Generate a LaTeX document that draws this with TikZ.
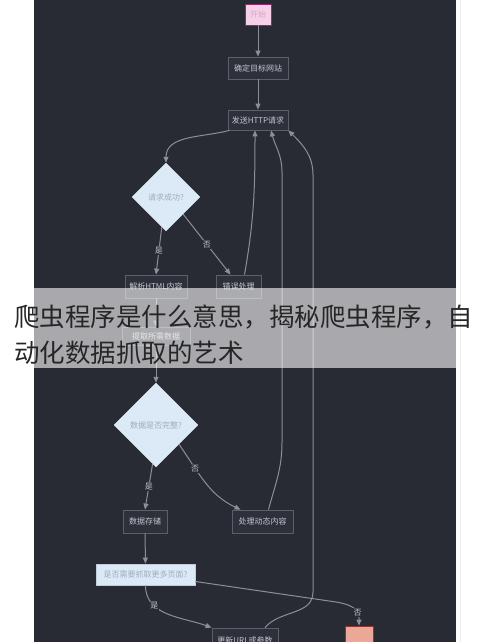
\documentclass[tikz,border=0pt]{standalone}
\usepackage{fontspec}
\setmainfont{Noto Sans CJK SC}
\usetikzlibrary{arrows.meta,shapes.geometric}
\definecolor{panelbg}{RGB}{40,42,52}
\definecolor{boxfill}{RGB}{46,49,59}
\definecolor{boxline}{RGB}{92,95,106}
\definecolor{boxtext}{RGB}{196,198,204}
\definecolor{flowline}{RGB}{140,143,152}
\definecolor{paleblue}{RGB}{220,233,246}
\definecolor{paletext}{RGB}{160,172,188}
\definecolor{startfill}{RGB}{246,208,232}
\definecolor{startline}{RGB}{150,40,110}
\definecolor{endfill}{RGB}{236,168,150}
\definecolor{endline}{RGB}{150,50,40}
\tikzset{
	box/.style={draw=boxline, fill=boxfill, text=boxtext, line width=0.8pt, inner sep=0pt, font=\fontsize{8}{9}\selectfont},
	ask/.style={diamond, draw=paleblue, fill=paleblue, text=paletext, inner sep=0pt, font=\fontsize{8}{9}\selectfont},
	flow/.style={draw=flowline, line width=1pt, -{Triangle[length=6pt,width=5pt]}},
	lbl/.style={fill=panelbg, text=boxtext, inner sep=1pt, font=\fontsize{8}{9}\selectfont}
}

\begin{document}
\begin{tikzpicture}[x=1pt,y=1pt]
		%%%%% START %%%%%
		
		\clip (0,0) rectangle (490,642);
		\fill[white] (0,0) rectangle (490,642);
		\fill[panelbg] (34,0) rectangle (456,642);
		\draw[black!8] (460,0) -- (460,642);
		
		\node[box, fill=startfill, draw=startline, text=startline!40, minimum width=26pt, minimum height=21pt] (start) at (258,627.5) {开始};
		\node[box, minimum width=60pt, minimum height=22pt] (site) at (258,574) {确定目标网站};
		\node[box, minimum width=60pt, minimum height=20pt] (send) at (258,522) {发送HTTP请求};
		
		\node[ask, minimum width=68pt, minimum height=68pt] (ok) at (166,445) {请求成功?};
		\node[box, minimum width=62pt, minimum height=23pt] (parse) at (156,355.5) {解析HTML内容};
		\node[box, minimum width=45pt, minimum height=23pt] (err) at (238.5,355.5) {错误处理};
		\node[box, minimum width=68pt, minimum height=18pt] (extract) at (156,306) {提取所需数据};
		
		\node[ask, minimum width=84pt, minimum height=84pt] (full) at (156,217) {数据是否完整?};
		\node[box, minimum width=44pt, minimum height=23pt] (store) at (145,120.5) {数据存储};
		\node[box, minimum width=61pt, minimum height=23pt] (dyn) at (262.5,120.5) {处理动态内容};
		
		\node[box, fill=paleblue, draw=paleblue!80!boxline, text=paletext, minimum width=99pt, minimum height=21pt] (more) at (145.5,67.5) {是否需要抓取更多页面?};
		\node[box, minimum width=66pt, minimum height=24pt] (upd) at (245,2) {更新URL或参数};
		\node[box, fill=endfill, draw=endline, minimum width=28pt, minimum height=28pt] (end) at (359,2) {};
		
		\draw[flow] (start) -- (site);
		\draw[flow] (site) -- (send);
		\draw[flow] (send.200) to[out=195,in=90] (ok.north);
		
		\draw[flow] (ok.262) -- node[lbl](yes1){是} (parse.north);
		\draw[flow] (ok.-45) -- node[lbl](no1){否} ([xshift=-8pt]err.north);
		\draw[flow] ([xshift=6pt]err.north) to[out=80,in=-90] ([xshift=-3pt]send.south);
		
		\draw[flow] (parse) -- (extract);
		\draw[flow] (extract) -- (full);
		
		\draw[flow] (full.265) -- node[lbl](yes2){是} (store.north);
		\draw[flow] (full.-40) to[out=-55,in=155] node[lbl,pos=0.3](no2){否} ([xshift=-22pt]dyn.north);
		\draw[flow] ([xshift=6pt]dyn.north) to[out=75,in=-90] (282,200) -- (282,470) to[out=90,in=-75] ([xshift=13pt]send.south);
		
		\draw[flow] (store) -- (more);
		\draw[flow] (more.south) to[out=-90,in=160] node[lbl,pos=0.3](yes3){是} (upd.north west);
		\draw[flow] (more.-8) -- (336,40) to[out=-10,in=90] node[lbl,pos=0.8](no3){否} (359,24) -- (end.north);
		\draw[flow] ([xshift=20pt]upd.north) to[out=50,in=-90] (313,50) -- (313,467) to[out=90,in=-45] (send.south east);
		
		\fill[white, opacity=0.6] (34,274) rectangle (456,354);
		\node[anchor=base west, inner sep=0pt, text=black!85, font=\fontsize{25.5}{30}\selectfont] (title1) at (14,315) {爬虫程序是什么意思，揭秘爬虫程序，自};
		\node[anchor=base west, inner sep=0pt, text=black!85, font=\fontsize{25.5}{30}\selectfont] (title2) at (14,279) {动化数据抓取的艺术};
		
		%%%%% END %%%%%
	\end{tikzpicture}
\end{document}
